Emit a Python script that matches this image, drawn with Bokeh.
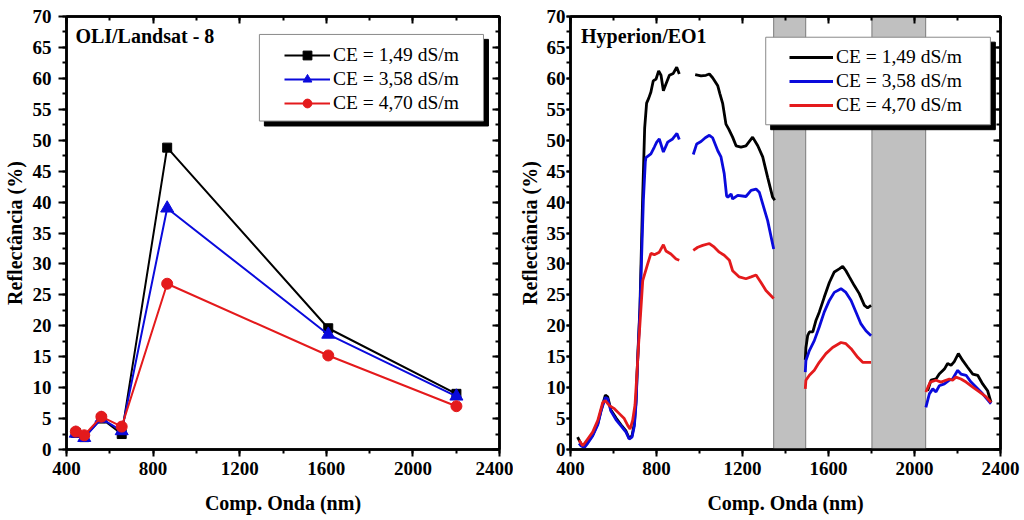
import numpy as np
from bokeh.plotting import figure
from bokeh.models import (Range1d, LinearAxis, FixedTicker, Legend, LegendItem,
                          BoxAnnotation, Label)
from bokeh.layouts import row
from bokeh.embed import file_html
from bokeh.resources import INLINE

FONT = "Liberation Serif"

# ---------------- data: OLI / Landsat-8 ----------------
oli_wl = [443, 482, 561, 655, 865, 1609, 2201]
oli_149 = [2.7, 2.0, 5.0, 2.5, 48.8, 19.6, 9.0]
oli_358 = [2.6, 1.9, 5.0, 3.0, 39.0, 18.6, 8.6]
oli_470 = [2.9, 2.3, 5.3, 3.7, 26.8, 15.2, 7.0]

labels = ["CE = 1,49 dS/m", "CE = 3,58 dS/m", "CE = 4,70 dS/m"]

# ---------------- data: Hyperion / EO1 (segments) ----------------
# CE = 1,49
h149_wl_1 = [433, 449, 464, 480, 503, 527, 542, 562, 573, 588, 612, 635, 658, 673, 686, 697, 705, 712,
             723, 735, 745, 754, 764, 774, 785, 798, 810, 821, 832, 844, 860, 878, 894, 906]
h149_v_1 = [2.0, 0.9, 0.4, 1.2, 2.3, 4.2, 6.3, 8.8, 8.5, 6.4, 5.1, 4.0, 3.0, 1.8, 2.2, 4.2, 7.9, 14.4,
            23.0, 40.0, 52.0, 56.0, 56.8, 57.8, 59.6, 59.9, 61.2, 60.5, 58.0, 59.1, 60.5, 60.8, 61.8, 60.7]
h149_wl_2 = [980, 1007, 1030, 1046, 1061, 1085, 1095, 1108, 1123, 1136, 1154, 1170, 1193, 1216, 1247,
             1271, 1294, 1317, 1340, 1350]
h149_v_2 = [60.6, 60.4, 60.5, 60.7, 60.1, 58.8, 57.5, 55.9, 52.6, 51.8, 50.5, 49.1, 48.9, 49.1, 50.5,
            49.1, 47.3, 44.0, 40.8, 40.3]
h149_wl_3 = [1492, 1495, 1503, 1511, 1527, 1542, 1557, 1580, 1604, 1627, 1650, 1666, 1681, 1697, 1720,
             1743, 1767, 1782, 1798]
h149_v_3 = [14.5, 16.5, 18.4, 19.0, 19.0, 20.9, 22.2, 24.6, 27.0, 28.7, 29.2, 29.6, 28.9, 27.9, 26.5,
            25.2, 23.3, 22.9, 23.3]
h149_wl_4 = [2061, 2077, 2100, 2115, 2139, 2154, 2170, 2185, 2204, 2224, 2247, 2271, 2294, 2317, 2340, 2356]
h149_v_4 = [9.5, 11.2, 11.4, 12.2, 13.0, 13.9, 13.6, 14.2, 15.5, 14.4, 13.3, 12.2, 12.0, 10.6, 9.5, 7.6]

# CE = 3,58
h358_wl_1 = [440, 449, 464, 480, 503, 527, 542, 562, 573, 588, 612, 635, 658, 673, 686, 697, 705, 712,
             723, 739, 748, 751, 774, 790, 801, 813, 832, 852, 875, 895, 906]
h358_v_1 = [1.0, 0.6, 0.3, 1.0, 2.2, 4.0, 6.2, 8.4, 8.2, 6.2, 4.8, 3.8, 2.8, 1.7, 2.0, 3.8, 7.5, 14.0,
            22.5, 40.3, 46.5, 47.2, 47.8, 48.9, 49.7, 50.2, 48.1, 49.7, 50.2, 51.1, 50.1]
h358_wl_2 = [971, 987, 1007, 1027, 1046, 1061, 1085, 1100, 1115, 1126, 1132, 1147, 1154, 1178, 1216,
             1240, 1263, 1278, 1294, 1317, 1345]
h358_v_2 = [47.7, 49.4, 49.8, 50.4, 50.8, 50.4, 48.3, 47.3, 44.6, 41.0, 40.8, 41.3, 40.5, 41.1, 40.9,
            41.9, 42.1, 41.6, 39.7, 37.0, 32.4]
h358_wl_3 = [1492, 1495, 1511, 1534, 1557, 1580, 1604, 1627, 1658, 1681, 1705, 1728, 1751, 1774, 1798]
h358_v_3 = [12.5, 14.4, 16.0, 17.6, 19.8, 22.2, 24.1, 25.4, 26.0, 25.4, 24.1, 22.2, 20.3, 19.2, 18.4]
h358_wl_4 = [2053, 2069, 2085, 2100, 2115, 2139, 2162, 2177, 2201, 2216, 2240, 2263, 2286, 2317, 2356]
h358_v_4 = [6.8, 9.0, 9.8, 9.3, 10.3, 10.6, 11.2, 11.4, 12.8, 12.2, 12.0, 10.9, 10.1, 9.0, 7.4]

# CE = 4,70
h470_wl_1 = [440, 457, 480, 503, 527, 550, 562, 581, 604, 627, 650, 666, 677, 689, 700, 708, 717,
             736, 759, 774, 790, 813, 832, 844, 867, 891, 906]
h470_v_1 = [1.5, 0.6, 1.7, 2.8, 4.7, 7.6, 7.9, 7.1, 6.6, 5.8, 5.0, 3.9, 3.3, 4.7, 7.2, 11.7, 17.1,
            27.3, 30.0, 31.7, 31.5, 31.9, 33.1, 32.1, 31.6, 30.8, 30.6]
h470_wl_2 = [971, 992, 1015, 1046, 1069, 1092, 1115, 1139, 1154, 1185, 1216, 1240, 1263, 1286, 1309, 1345]
h470_v_2 = [32.2, 32.7, 33.0, 33.3, 32.7, 31.9, 31.4, 30.6, 28.9, 27.9, 27.6, 27.9, 28.2, 27.0, 25.7, 24.4]
h470_wl_3 = [1492, 1495, 1511, 1534, 1557, 1588, 1619, 1658, 1681, 1705, 1736, 1759, 1798]
h470_v_3 = [9.8, 11.2, 12.0, 12.8, 14.1, 15.5, 16.5, 17.3, 17.1, 16.3, 14.9, 14.1, 14.1]
h470_wl_4 = [2053, 2073, 2100, 2123, 2146, 2162, 2177, 2193, 2216, 2240, 2271, 2302, 2333, 2356]
h470_v_4 = [9.3, 10.9, 11.2, 10.9, 11.2, 11.4, 11.2, 11.7, 11.4, 10.9, 10.1, 9.3, 8.5, 7.6]

# water absorption bands (masked)
band_start = [1345, 1802]
band_end = [1494, 2052]

x_ticks = [400, 800, 1200, 1600, 2000, 2400]
x_minor = [400, 600, 800, 1000, 1200, 1400, 1600, 1800, 2000, 2200, 2400]
y_ticks = [0, 5, 10, 15, 20, 25, 30, 35, 40, 45, 50, 55, 60, 65, 70]
y_minor = [i * 2.5 for i in range(29)]

C_BLACK = "#000000"
C_BLUE = "#0a0adc"
C_RED = "#e41a1c"


def join(*segs):
    xs, ys = [], []
    for i in range(0, len(segs), 2):
        if xs:
            xs.append(np.nan)
            ys.append(np.nan)
        xs.extend(segs[i])
        ys.extend(segs[i + 1])
    return np.array(xs, dtype=float), np.array(ys, dtype=float)


def style(p, tick_out, label_standoff, ylabel_standoff):
    p.x_range = Range1d(400, 2400)
    p.y_range = Range1d(0, 70)
    p.xaxis.ticker = FixedTicker(ticks=x_ticks, minor_ticks=x_minor)
    p.yaxis.ticker = FixedTicker(ticks=y_ticks, minor_ticks=y_minor)
    p.outline_line_color = "black"
    p.outline_line_width = 2.5
    p.background_fill_color = "white"
    p.border_fill_color = "white"
    for ax in (p.xaxis[0], p.yaxis[0]):
        ax.axis_line_width = 2.5
        ax.major_tick_line_width = 2
        ax.minor_tick_line_width = 2
        ax.major_tick_in = 0
        ax.minor_tick_in = 0
        ax.minor_tick_out = 4
        ax.major_label_text_font = FONT
        ax.major_label_text_font_style = "bold"
        ax.major_label_text_font_size = "19px"
        ax.major_label_text_color = "black"
        ax.axis_label_text_font = FONT
        ax.axis_label_text_font_style = "bold"
        ax.axis_label_text_font_size = "20px"
        ax.axis_label_text_color = "black"
    p.xaxis.major_tick_out = 7
    p.yaxis.major_tick_out = tick_out
    p.xaxis.major_label_standoff = 5
    p.yaxis.major_label_standoff = label_standoff
    p.xaxis.axis_label = "Comp. Onda (nm)"
    p.yaxis.axis_label = "Reflectância (%)"
    p.xaxis.axis_label_standoff = 14
    p.yaxis.axis_label_standoff = ylabel_standoff
    p.grid.visible = False
    # mirrored axes with inward ticks and no labels
    top = LinearAxis(ticker=FixedTicker(ticks=x_ticks, minor_ticks=x_minor))
    right = LinearAxis(ticker=FixedTicker(ticks=y_ticks, minor_ticks=y_minor))
    for ax in (top, right):
        ax.axis_line_width = 2.5
        ax.major_tick_line_width = 2
        ax.minor_tick_line_width = 2
        ax.major_tick_in = 7
        ax.major_tick_out = 0
        ax.minor_tick_in = 4
        ax.minor_tick_out = 0
        ax.major_label_text_font_size = "1px"
        ax.major_label_text_color = None
        ax.major_label_standoff = 0
    p.add_layout(top, "above")
    p.add_layout(right, "right")


def legend_box(p, left, right, top, bottom, dx, dy):
    p.add_layout(BoxAnnotation(left=left + dx, right=right + dx, top=top - dy, bottom=bottom - dy,
                               fill_color="black", fill_alpha=1.0, line_color="black", line_alpha=1.0))
    p.add_layout(BoxAnnotation(left=left, right=right, top=top, bottom=bottom,
                               fill_color="white", fill_alpha=1.0, line_color="#8a8a8a",
                               line_width=1, line_alpha=1.0))


def make_legend(items, vx, vy, gw):
    lg = Legend(items=items, location=(vx, vy))
    lg.background_fill_alpha = 0
    lg.border_line_alpha = 0
    lg.padding = 0
    lg.margin = 0
    lg.spacing = 2
    lg.glyph_width = gw
    lg.glyph_height = 22
    lg.label_height = 22
    lg.label_standoff = 3
    lg.label_text_font = FONT
    lg.label_text_font_size = "19.5px"
    lg.label_text_color = "black"
    return lg


# ---------------- left figure ----------------
p1 = figure(width=513, height=520, output_backend="svg", toolbar_location=None,
            min_border_left=66, min_border_right=14, min_border_top=16, min_border_bottom=71)
style(p1, 8, 7, 4)

r1l = p1.line(oli_wl, oli_149, line_color=C_BLACK, line_width=2)
r1m = p1.scatter(oli_wl, oli_149, marker="square", size=9, color=C_BLACK)
r2l = p1.line(oli_wl, oli_358, line_color=C_BLUE, line_width=2)
r2m = p1.scatter(oli_wl, oli_358, marker="triangle", size=13, color=C_BLUE)
r3l = p1.line(oli_wl, oli_470, line_color=C_RED, line_width=2)
r3m = p1.scatter(oli_wl, oli_470, marker="circle", size=11, color=C_RED)

legend_box(p1, 1291, 2326, 67.1, 53.1, 23, 0.8)
p1.add_layout(make_legend([LegendItem(label=labels[0], renderers=[r1l, r1m]),
                           LegendItem(label=labels[1], renderers=[r2l, r2m]),
                           LegendItem(label=labels[2], renderers=[r3l, r3m])], 218, 335, 46))
p1.add_layout(Label(x=441, y=66.8, text="OLI/Landsat - 8", text_font=FONT, text_font_style="bold",
                    text_font_size="20px", text_baseline="middle", text_color="black"))

# ---------------- right figure ----------------
p2 = figure(width=511, height=520, output_backend="svg", toolbar_location=None,
            min_border_left=57, min_border_right=24, min_border_top=16, min_border_bottom=71)
style(p2, 4, 1, 3)

p2.quad(left=band_start, right=band_end, bottom=0, top=70, fill_color="#c0c0c0",
        line_color="#7a7a7a", line_width=1)

x1, y1 = join(h149_wl_1, h149_v_1, h149_wl_2, h149_v_2, h149_wl_3, h149_v_3, h149_wl_4, h149_v_4)
x2, y2 = join(h358_wl_1, h358_v_1, h358_wl_2, h358_v_2, h358_wl_3, h358_v_3, h358_wl_4, h358_v_4)
x3, y3 = join(h470_wl_1, h470_v_1, h470_wl_2, h470_v_2, h470_wl_3, h470_v_3, h470_wl_4, h470_v_4)
h1 = p2.line(x1, y1, line_color=C_BLACK, line_width=2.8)
h2 = p2.line(x2, y2, line_color=C_BLUE, line_width=2.8)
h3 = p2.line(x3, y3, line_color=C_RED, line_width=2.8)

legend_box(p2, 1308, 2353, 66.65, 52.5, 23, 0.8)
p2.add_layout(make_legend([LegendItem(label=labels[0], renderers=[h1]),
                           LegendItem(label=labels[1], renderers=[h2]),
                           LegendItem(label=labels[2], renderers=[h3])], 219, 333, 44))
p2.add_layout(Label(x=449, y=66.8, text="Hyperion/EO1", text_font=FONT, text_font_style="bold",
                    text_font_size="20px", text_baseline="middle", text_color="black"))

layout = row(p1, p2)
open("out.html", "w").write(file_html(layout, INLINE))
